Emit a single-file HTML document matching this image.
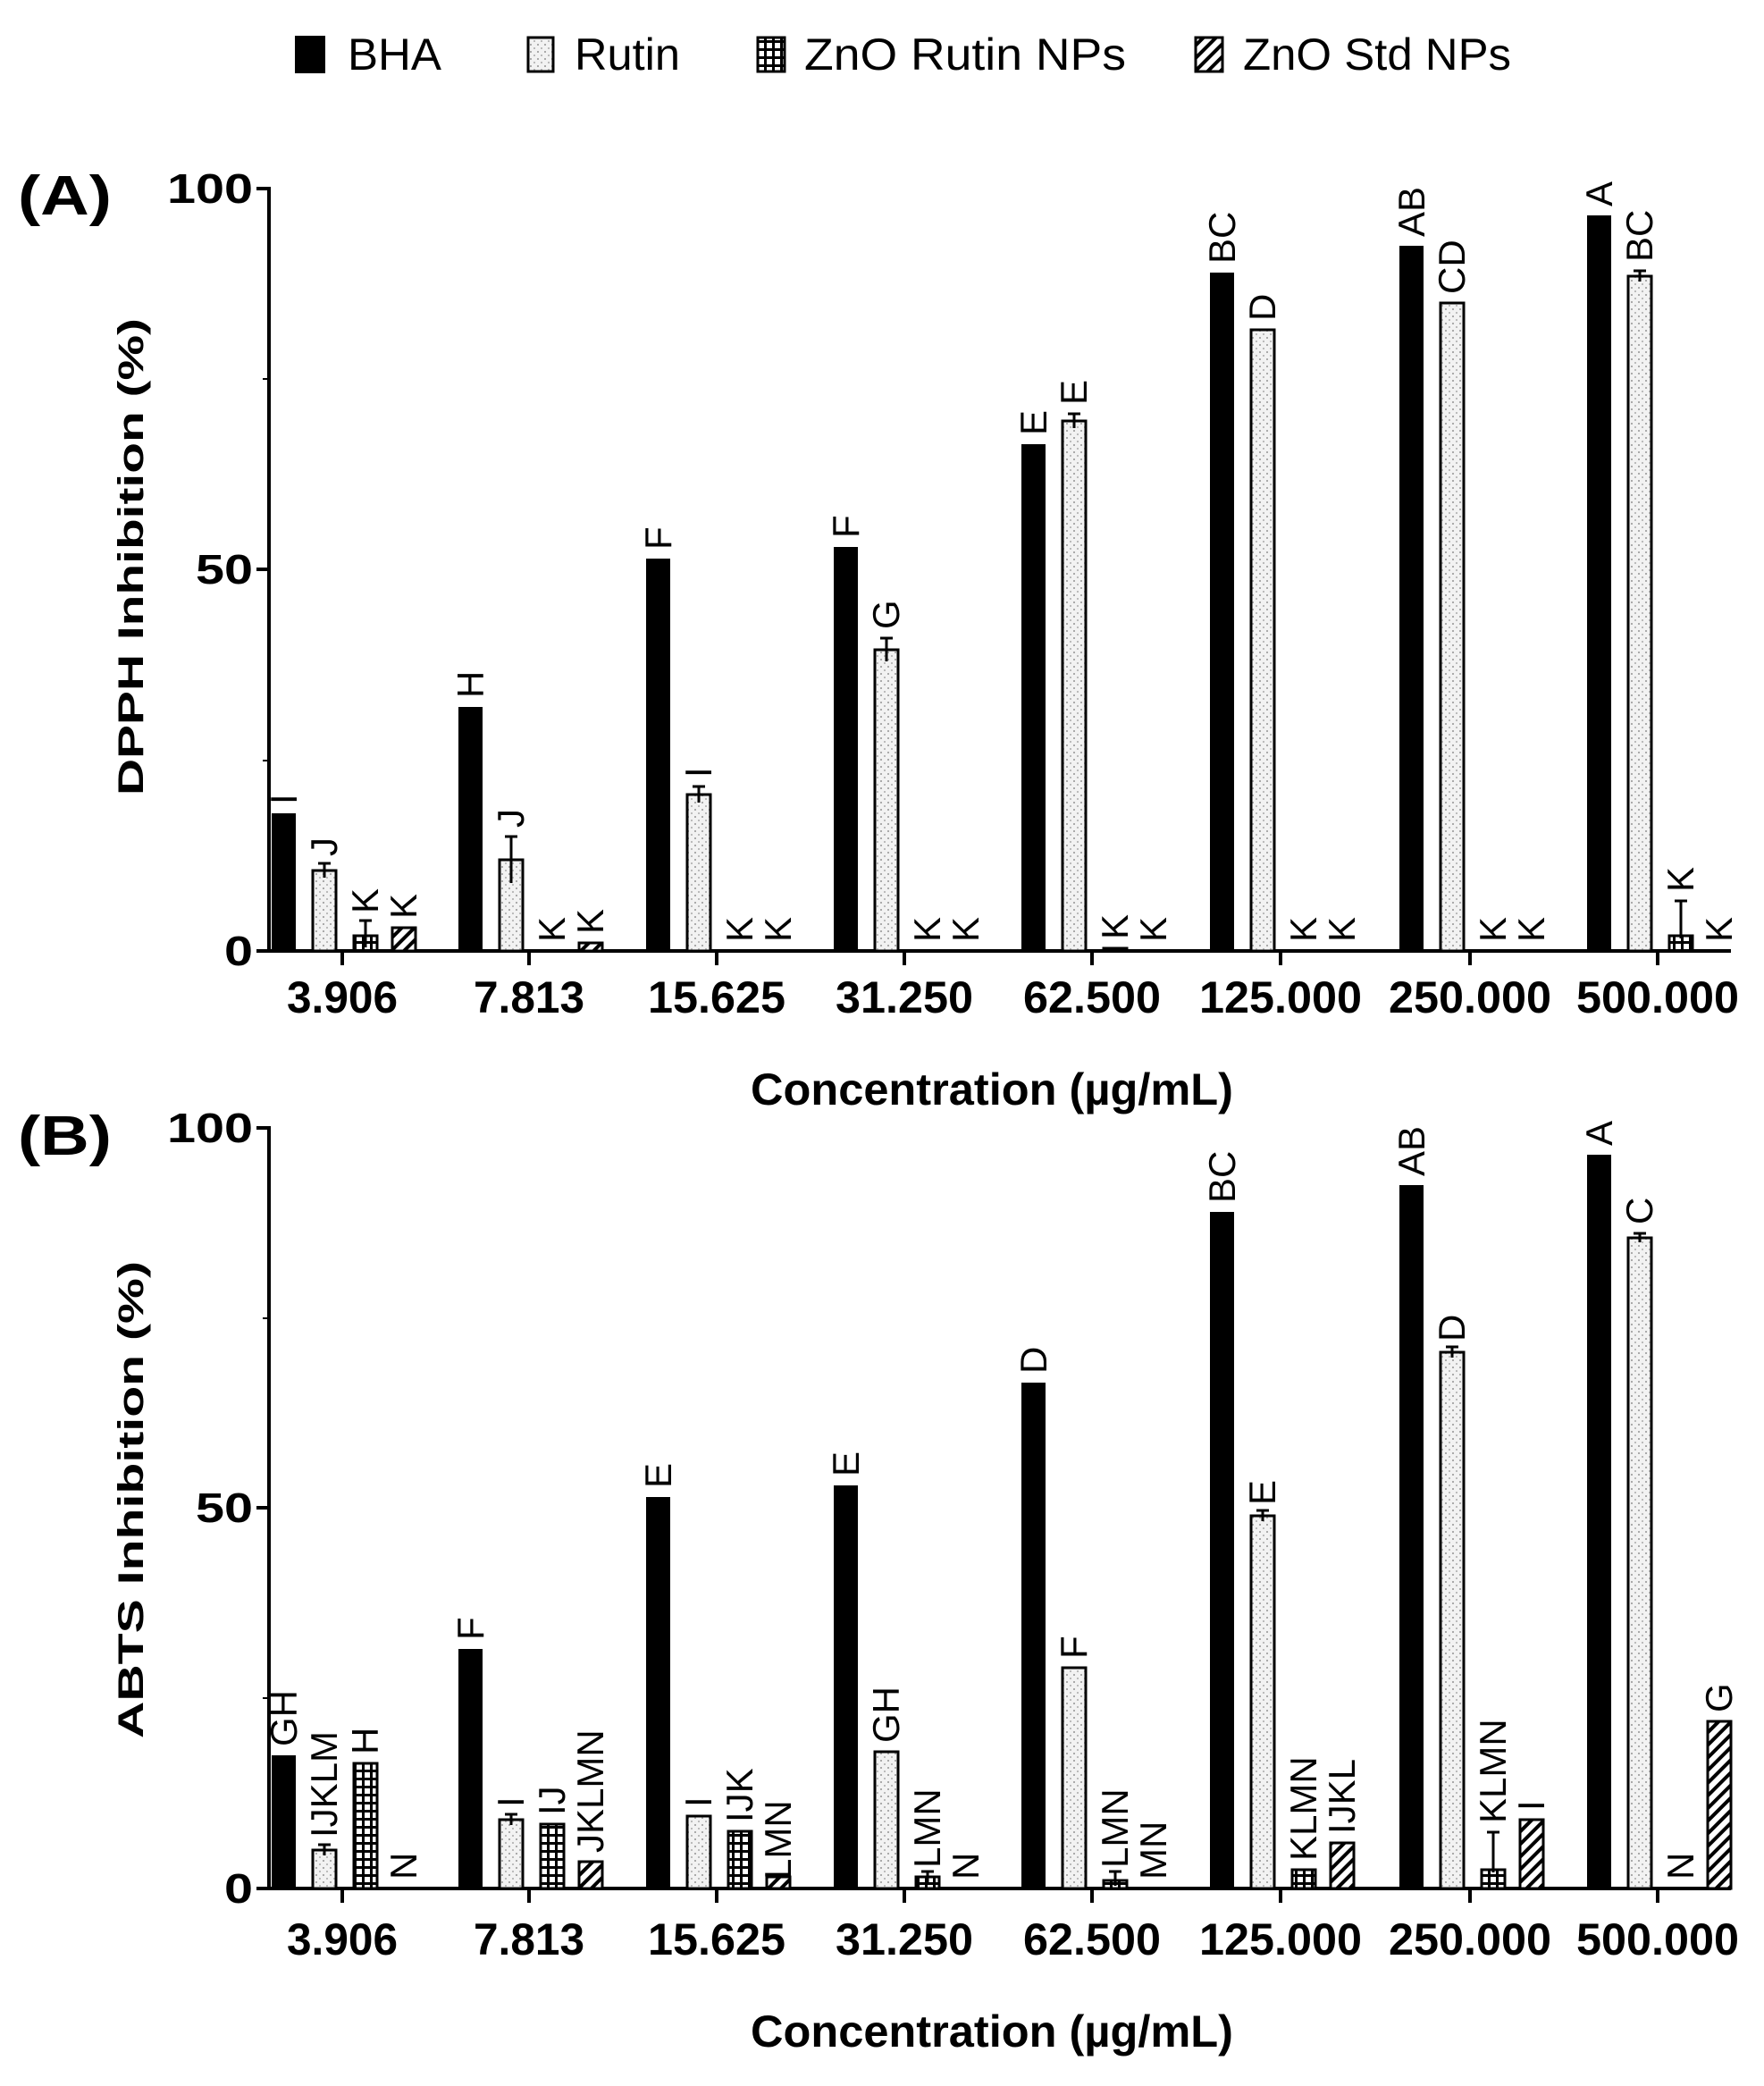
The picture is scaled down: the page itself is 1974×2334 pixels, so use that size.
<!DOCTYPE html>
<html><head><meta charset="utf-8"><style>
html,body{margin:0;padding:0;background:#fff;}
svg{display:block;}
</style></head><body>
<svg width="1974" height="2334" viewBox="0 0 1974 2334" xmlns="http://www.w3.org/2000/svg" font-family="Liberation Sans, sans-serif">
<defs>
<pattern id="dot" width="8" height="8" patternUnits="userSpaceOnUse"><rect width="8" height="8" fill="#f2f2f2"/><rect x="1" y="1" width="2" height="2" fill="#aaa"/><rect x="5" y="5" width="2" height="2" fill="#bbb"/></pattern>
<pattern id="grid" width="9" height="9" patternUnits="userSpaceOnUse"><rect width="9" height="9" fill="#fff"/><rect x="0" y="0" width="9" height="3" fill="#000"/><rect x="0" y="0" width="3" height="9" fill="#000"/></pattern>
<pattern id="hatch" width="10" height="10" patternUnits="userSpaceOnUse" patternTransform="rotate(45)"><rect width="10" height="10" fill="#fff"/><rect x="0" y="0" width="4" height="10" fill="#000"/></pattern>
</defs>

<!-- Legend -->
<g font-size="50">
<rect x="330" y="40" width="34" height="42" fill="#000"/>
<text x="389" y="78" textLength="105" lengthAdjust="spacingAndGlyphs">BHA</text>
<rect x="591" y="42" width="28" height="38" fill="url(#dot)" stroke="#000" stroke-width="3"/>
<text x="643" y="78" textLength="118" lengthAdjust="spacingAndGlyphs">Rutin</text>
<rect x="848" y="42" width="30" height="38" fill="url(#grid)" stroke="#000" stroke-width="3"/>
<text x="900" y="78" textLength="360" lengthAdjust="spacingAndGlyphs">ZnO Rutin  NPs</text>
<rect x="1338" y="42" width="30" height="38" fill="url(#hatch)" stroke="#000" stroke-width="3"/>
<text x="1391" y="78" textLength="300" lengthAdjust="spacingAndGlyphs">ZnO Std NPs</text>
</g>

<!-- Panel labels -->
<text x="20" y="240" font-size="62" font-weight="bold" textLength="105" lengthAdjust="spacingAndGlyphs">(A)</text>
<text x="20" y="1292" font-size="62" font-weight="bold" textLength="105" lengthAdjust="spacingAndGlyphs">(B)</text>

<!-- Axis titles -->
<text transform="translate(160,623) rotate(-90)" text-anchor="middle" font-size="40" font-weight="bold" textLength="534" lengthAdjust="spacingAndGlyphs">DPPH Inhibition (%)</text>
<text transform="translate(160,1678) rotate(-90)" text-anchor="middle" font-size="40" font-weight="bold" textLength="534" lengthAdjust="spacingAndGlyphs">ABTS Inhibition (%)</text>
<text x="1110" y="1236" text-anchor="middle" font-size="50" font-weight="bold" textLength="540" lengthAdjust="spacingAndGlyphs">Concentration (µg/mL)</text>
<text x="1110" y="2290" text-anchor="middle" font-size="50" font-weight="bold" textLength="540" lengthAdjust="spacingAndGlyphs">Concentration (µg/mL)</text>

<!-- Panel A axes -->
<g stroke="#000" stroke-width="4">
<line x1="301" y1="209" x2="301" y2="1066"/>
<line x1="299" y1="1064" x2="1937" y2="1064"/>
<line x1="287" y1="211" x2="301" y2="211"/>
<line x1="287" y1="637" x2="301" y2="637"/>
<line x1="287" y1="1064" x2="301" y2="1064"/>
<line x1="294" y1="424" x2="301" y2="424" stroke-width="2"/>
<line x1="294" y1="851" x2="301" y2="851" stroke-width="2"/>
<line x1="383" y1="1064" x2="383" y2="1080"/><line x1="592" y1="1064" x2="592" y2="1080"/><line x1="802" y1="1064" x2="802" y2="1080"/><line x1="1012" y1="1064" x2="1012" y2="1080"/><line x1="1222" y1="1064" x2="1222" y2="1080"/><line x1="1433" y1="1064" x2="1433" y2="1080"/><line x1="1645" y1="1064" x2="1645" y2="1080"/><line x1="1855" y1="1064" x2="1855" y2="1080"/>
</g>
<g font-size="46" font-weight="bold" text-anchor="end">
<text x="283" y="227" textLength="96" lengthAdjust="spacingAndGlyphs">100</text>
<text x="283" y="653" textLength="64" lengthAdjust="spacingAndGlyphs">50</text>
<text x="283" y="1080" textLength="32" lengthAdjust="spacingAndGlyphs">0</text>
</g>
<g font-size="50" font-weight="bold" text-anchor="middle">
<text x="383" y="1133" textLength="124" lengthAdjust="spacingAndGlyphs">3.906</text>
<text x="592" y="1133" textLength="124" lengthAdjust="spacingAndGlyphs">7.813</text>
<text x="802" y="1133" textLength="154" lengthAdjust="spacingAndGlyphs">15.625</text>
<text x="1012" y="1133" textLength="154" lengthAdjust="spacingAndGlyphs">31.250</text>
<text x="1222" y="1133" textLength="154" lengthAdjust="spacingAndGlyphs">62.500</text>
<text x="1433" y="1133" textLength="182" lengthAdjust="spacingAndGlyphs">125.000</text>
<text x="1645" y="1133" textLength="182" lengthAdjust="spacingAndGlyphs">250.000</text>
<text x="1855" y="1133" textLength="182" lengthAdjust="spacingAndGlyphs">500.000</text>
</g>

<!-- Panel A bars -->
<g>
<rect x="304" y="910" width="27" height="154" fill="#000"/>
<rect x="513" y="791" width="27" height="273" fill="#000"/>
<rect x="723" y="625" width="27" height="439" fill="#000"/>
<rect x="933" y="612" width="27" height="452" fill="#000"/>
<rect x="1143" y="497" width="27" height="567" fill="#000"/>
<rect x="1354" y="305" width="27" height="759" fill="#000"/>
<rect x="1566" y="275" width="27" height="789" fill="#000"/>
<rect x="1776" y="241" width="27" height="823" fill="#000"/>
</g>
<g fill="url(#dot)" stroke="#000" stroke-width="3">
<rect x="350" y="974" width="26" height="90"/>
<rect x="559" y="962" width="26" height="102"/>
<rect x="769" y="889" width="26" height="175"/>
<rect x="979" y="727" width="26" height="337"/>
<rect x="1189" y="471" width="26" height="593"/>
<rect x="1400" y="369" width="26" height="695"/>
<rect x="1612" y="339" width="26" height="725"/>
<rect x="1822" y="309" width="26" height="755"/>
</g>
<g fill="url(#grid)" stroke="#000" stroke-width="3">
<rect x="396" y="1047" width="26" height="17"/>
<rect x="1235" y="1061" width="26" height="3"/>
<rect x="1868" y="1047" width="26" height="17"/>
</g>
<g fill="url(#hatch)" stroke="#000" stroke-width="3">
<rect x="439" y="1038" width="26" height="26"/>
<rect x="648" y="1055" width="26" height="9"/>
</g>
<!-- error bars A -->
<g stroke="#000" stroke-width="3">
<line x1="363" y1="966" x2="363" y2="982"/><line x1="356" y1="966" x2="370" y2="966"/>
<line x1="409" y1="1030" x2="409" y2="1060"/><line x1="402" y1="1030" x2="416" y2="1030"/>
<line x1="572" y1="936" x2="572" y2="988"/><line x1="565" y1="936" x2="579" y2="936"/>
<line x1="782" y1="880" x2="782" y2="898"/><line x1="775" y1="880" x2="789" y2="880"/>
<line x1="992" y1="714" x2="992" y2="740"/><line x1="985" y1="714" x2="999" y2="714"/>
<line x1="1202" y1="463" x2="1202" y2="479"/><line x1="1195" y1="463" x2="1209" y2="463"/>
<line x1="1835" y1="303" x2="1835" y2="315"/><line x1="1828" y1="303" x2="1842" y2="303"/>
<line x1="1881" y1="1008" x2="1881" y2="1050"/><line x1="1874" y1="1008" x2="1888" y2="1008"/>
</g>
<!-- letters A -->
<g font-size="42">
<text transform="translate(332,900) rotate(-90)">I</text>
<text transform="translate(377,958) rotate(-90)">J</text>
<text transform="translate(423,1022) rotate(-90)">K</text>
<text transform="translate(466,1028) rotate(-90)">K</text>
<text transform="translate(541,781) rotate(-90)">H</text>
<text transform="translate(586,926) rotate(-90)">J</text>
<text transform="translate(632,1054) rotate(-90)">K</text>
<text transform="translate(675,1045) rotate(-90)">K</text>
<text transform="translate(751,615) rotate(-90)">F</text>
<text transform="translate(796,870) rotate(-90)">I</text>
<text transform="translate(842,1054) rotate(-90)">K</text>
<text transform="translate(885,1054) rotate(-90)">K</text>
<text transform="translate(961,602) rotate(-90)">F</text>
<text transform="translate(1006,704) rotate(-90)">G</text>
<text transform="translate(1052,1054) rotate(-90)">K</text>
<text transform="translate(1095,1054) rotate(-90)">K</text>
<text transform="translate(1171,487) rotate(-90)">E</text>
<text transform="translate(1216,453) rotate(-90)">E</text>
<text transform="translate(1262,1051) rotate(-90)">K</text>
<text transform="translate(1305,1054) rotate(-90)">K</text>
<text transform="translate(1382,295) rotate(-90)">BC</text>
<text transform="translate(1427,359) rotate(-90)">D</text>
<text transform="translate(1473,1054) rotate(-90)">K</text>
<text transform="translate(1516,1054) rotate(-90)">K</text>
<text transform="translate(1594,265) rotate(-90)">AB</text>
<text transform="translate(1639,329) rotate(-90)">CD</text>
<text transform="translate(1685,1054) rotate(-90)">K</text>
<text transform="translate(1728,1054) rotate(-90)">K</text>
<text transform="translate(1804,231) rotate(-90)">A</text>
<text transform="translate(1849,293) rotate(-90)">BC</text>
<text transform="translate(1895,998) rotate(-90)">K</text>
<text transform="translate(1938,1054) rotate(-90)">K</text>
</g>

<!-- Panel B axes -->
<g stroke="#000" stroke-width="4">
<line x1="301" y1="1260" x2="301" y2="2115"/>
<line x1="299" y1="2113" x2="1937" y2="2113"/>
<line x1="287" y1="1262" x2="301" y2="1262"/>
<line x1="287" y1="1687" x2="301" y2="1687"/>
<line x1="287" y1="2113" x2="301" y2="2113"/>
<line x1="294" y1="1475" x2="301" y2="1475" stroke-width="2"/>
<line x1="294" y1="1900" x2="301" y2="1900" stroke-width="2"/>
<line x1="383" y1="2113" x2="383" y2="2129"/><line x1="592" y1="2113" x2="592" y2="2129"/><line x1="802" y1="2113" x2="802" y2="2129"/><line x1="1012" y1="2113" x2="1012" y2="2129"/><line x1="1222" y1="2113" x2="1222" y2="2129"/><line x1="1433" y1="2113" x2="1433" y2="2129"/><line x1="1645" y1="2113" x2="1645" y2="2129"/><line x1="1855" y1="2113" x2="1855" y2="2129"/>
</g>
<g font-size="46" font-weight="bold" text-anchor="end">
<text x="283" y="1278" textLength="96" lengthAdjust="spacingAndGlyphs">100</text>
<text x="283" y="1703" textLength="64" lengthAdjust="spacingAndGlyphs">50</text>
<text x="283" y="2129" textLength="32" lengthAdjust="spacingAndGlyphs">0</text>
</g>
<g font-size="50" font-weight="bold" text-anchor="middle">
<text x="383" y="2187" textLength="124" lengthAdjust="spacingAndGlyphs">3.906</text>
<text x="592" y="2187" textLength="124" lengthAdjust="spacingAndGlyphs">7.813</text>
<text x="802" y="2187" textLength="154" lengthAdjust="spacingAndGlyphs">15.625</text>
<text x="1012" y="2187" textLength="154" lengthAdjust="spacingAndGlyphs">31.250</text>
<text x="1222" y="2187" textLength="154" lengthAdjust="spacingAndGlyphs">62.500</text>
<text x="1433" y="2187" textLength="182" lengthAdjust="spacingAndGlyphs">125.000</text>
<text x="1645" y="2187" textLength="182" lengthAdjust="spacingAndGlyphs">250.000</text>
<text x="1855" y="2187" textLength="182" lengthAdjust="spacingAndGlyphs">500.000</text>
</g>

<!-- Panel B bars -->
<g>
<rect x="304" y="1964" width="27" height="149" fill="#000"/>
<rect x="513" y="1845" width="27" height="268" fill="#000"/>
<rect x="723" y="1675" width="27" height="438" fill="#000"/>
<rect x="933" y="1662" width="27" height="451" fill="#000"/>
<rect x="1143" y="1547" width="27" height="566" fill="#000"/>
<rect x="1354" y="1356" width="27" height="757" fill="#000"/>
<rect x="1566" y="1326" width="27" height="787" fill="#000"/>
<rect x="1776" y="1292" width="27" height="821" fill="#000"/>
</g>
<g fill="url(#dot)" stroke="#000" stroke-width="3">
<rect x="350" y="2070" width="26" height="43"/>
<rect x="559" y="2036" width="26" height="77"/>
<rect x="769" y="2032" width="26" height="81"/>
<rect x="979" y="1960" width="26" height="153"/>
<rect x="1189" y="1866" width="26" height="247"/>
<rect x="1400" y="1696" width="26" height="417"/>
<rect x="1612" y="1513" width="26" height="600"/>
<rect x="1822" y="1385" width="26" height="728"/>
</g>
<g fill="url(#grid)" stroke="#000" stroke-width="3">
<rect x="396" y="1973" width="26" height="140"/>
<rect x="605" y="2041" width="26" height="72"/>
<rect x="815" y="2049" width="26" height="64"/>
<rect x="1025" y="2100" width="26" height="13"/>
<rect x="1235" y="2104" width="26" height="9"/>
<rect x="1446" y="2092" width="26" height="21"/>
<rect x="1658" y="2092" width="26" height="21"/>
</g>
<g fill="url(#hatch)" stroke="#000" stroke-width="3">
<rect x="648" y="2083" width="26" height="30"/>
<rect x="858" y="2100" width="26" height="13"/>
<rect x="1489" y="2062" width="26" height="51"/>
<rect x="1701" y="2036" width="26" height="77"/>
<rect x="1911" y="1926" width="26" height="187"/>
</g>
<g stroke="#000" stroke-width="3">
<line x1="363" y1="2064" x2="363" y2="2076"/><line x1="356" y1="2064" x2="370" y2="2064"/>
<line x1="572" y1="2030" x2="572" y2="2042"/><line x1="565" y1="2030" x2="579" y2="2030"/>
<line x1="1038" y1="2094" x2="1038" y2="2106"/><line x1="1031" y1="2094" x2="1045" y2="2094"/>
<line x1="1248" y1="2094" x2="1248" y2="2110"/><line x1="1241" y1="2094" x2="1255" y2="2094"/>
<line x1="1413" y1="1690" x2="1413" y2="1702"/><line x1="1406" y1="1690" x2="1420" y2="1690"/>
<line x1="1625" y1="1507" x2="1625" y2="1519"/><line x1="1618" y1="1507" x2="1632" y2="1507"/>
<line x1="1671" y1="2050" x2="1671" y2="2095"/><line x1="1664" y1="2050" x2="1678" y2="2050"/>
<line x1="1835" y1="1380" x2="1835" y2="1390"/><line x1="1828" y1="1380" x2="1842" y2="1380"/>
</g>
<g font-size="42">
<text transform="translate(332,1954) rotate(-90)">GH</text>
<text transform="translate(377,2056) rotate(-90)">IJKLM</text>
<text transform="translate(423,1963) rotate(-90)">H</text>
<text transform="translate(466,2103) rotate(-90)">N</text>
<text transform="translate(541,1835) rotate(-90)">F</text>
<text transform="translate(586,2022) rotate(-90)">I</text>
<text transform="translate(632,2031) rotate(-90)">IJ</text>
<text transform="translate(675,2073) rotate(-90)">JKLMN</text>
<text transform="translate(751,1665) rotate(-90)">E</text>
<text transform="translate(796,2022) rotate(-90)">I</text>
<text transform="translate(842,2039) rotate(-90)">IJK</text>
<text transform="translate(885,2103) rotate(-90)">LMN</text>
<text transform="translate(961,1652) rotate(-90)">E</text>
<text transform="translate(1006,1950) rotate(-90)">GH</text>
<text transform="translate(1052,2090) rotate(-90)">LMN</text>
<text transform="translate(1095,2103) rotate(-90)">N</text>
<text transform="translate(1171,1537) rotate(-90)">D</text>
<text transform="translate(1216,1856) rotate(-90)">F</text>
<text transform="translate(1262,2090) rotate(-90)">LMN</text>
<text transform="translate(1305,2103) rotate(-90)">MN</text>
<text transform="translate(1382,1346) rotate(-90)">BC</text>
<text transform="translate(1427,1684) rotate(-90)">E</text>
<text transform="translate(1473,2082) rotate(-90)">KLMN</text>
<text transform="translate(1516,2052) rotate(-90)">IJKL</text>
<text transform="translate(1594,1316) rotate(-90)">AB</text>
<text transform="translate(1639,1501) rotate(-90)">D</text>
<text transform="translate(1685,2040) rotate(-90)">KLMN</text>
<text transform="translate(1728,2026) rotate(-90)">I</text>
<text transform="translate(1804,1282) rotate(-90)">A</text>
<text transform="translate(1849,1370) rotate(-90)">C</text>
<text transform="translate(1895,2103) rotate(-90)">N</text>
<text transform="translate(1938,1916) rotate(-90)">G</text>
</g>
</svg>
</body></html>
